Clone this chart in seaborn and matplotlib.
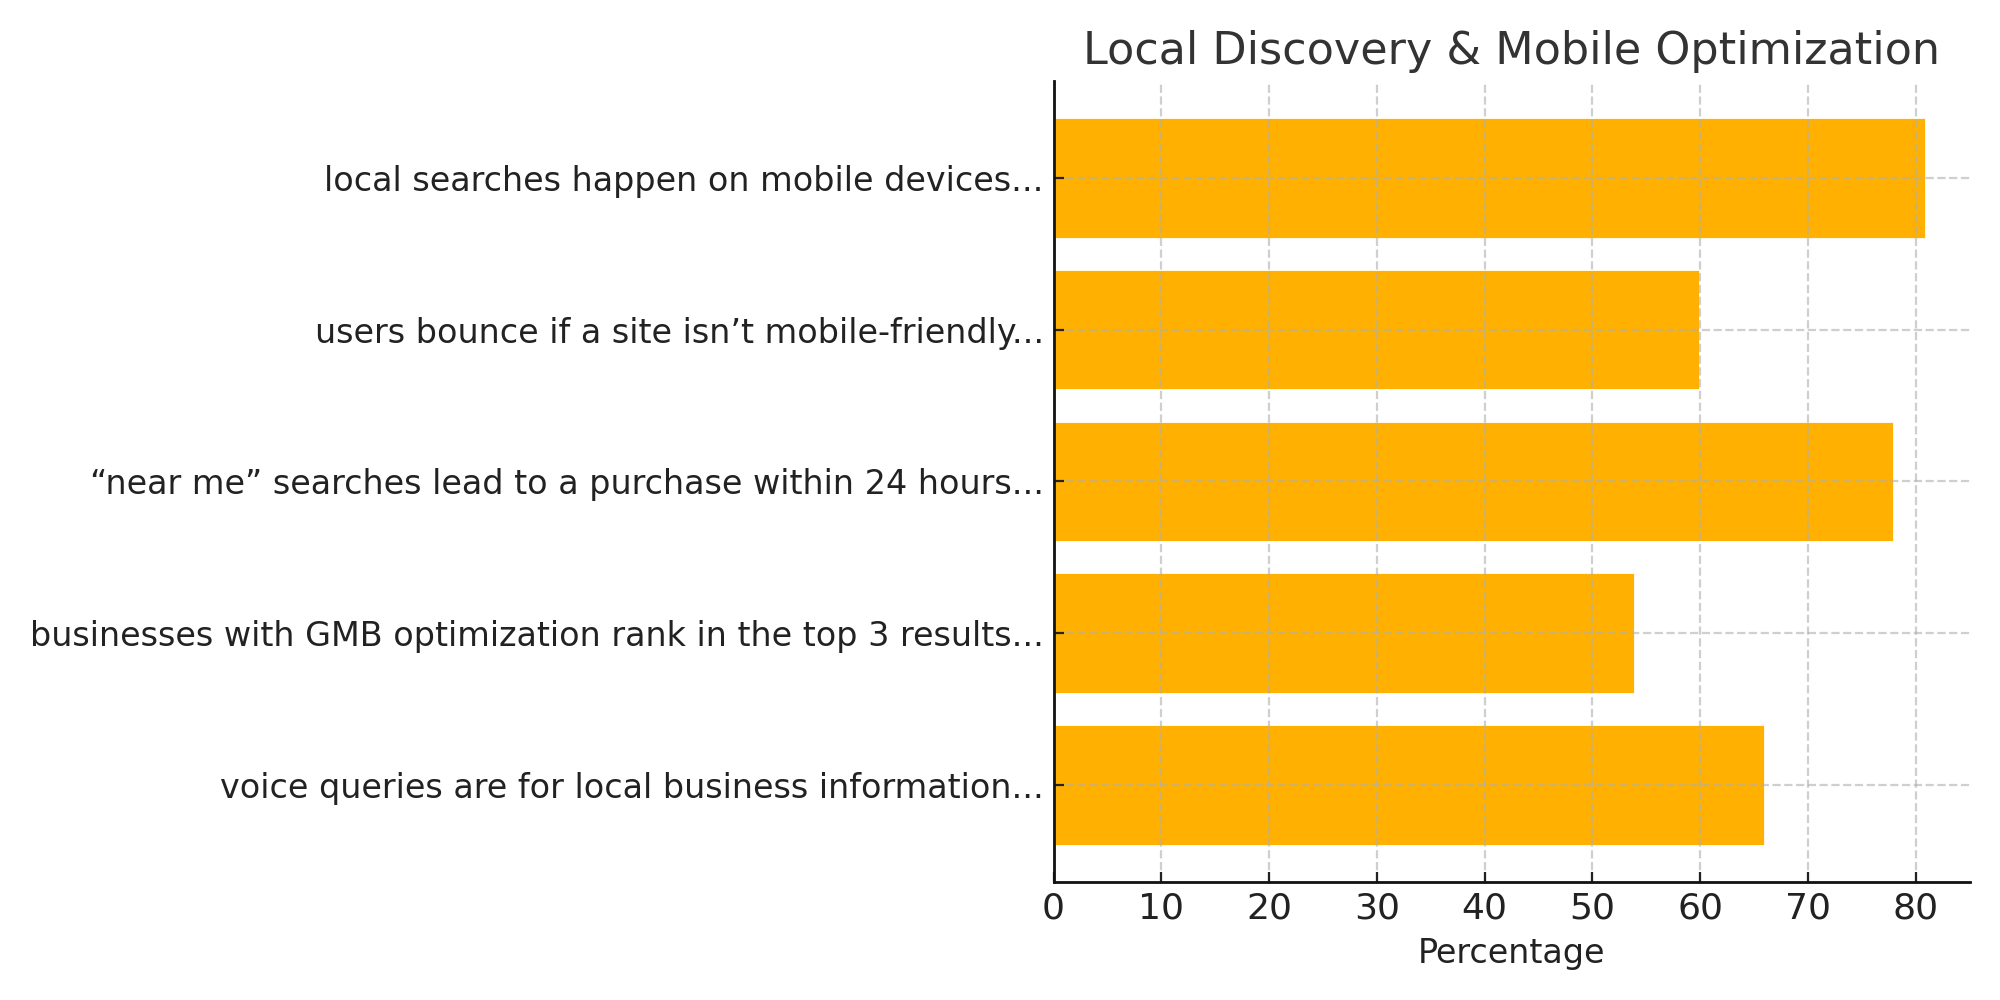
import pandas as pd
import seaborn as sns
import matplotlib.pyplot as plt
from matplotlib.ticker import MultipleLocator

categories = [
    "local searches happen on mobile devices...",
    "users bounce if a site isn\u2019t mobile-friendly...",
    "\u201cnear me\u201d searches lead to a purchase within 24 hours...",
    "businesses with GMB optimization rank in the top 3 results...",
    "voice queries are for local business information...",
]
percentages = [81, 60, 78, 54, 66]

df = pd.DataFrame({"stat": categories, "Percentage": percentages})

sns.set_style("ticks")
plt.rcParams['font.family'] = ['DejaVu Sans']

fig, ax = plt.subplots(figsize=(10, 5), dpi=200)
sns.barplot(data=df, x="Percentage", y="stat", orient="h",
            color="#FFB000", saturation=1, width=0.8, ax=ax)

# matplotlib-like default margins
ax.set_ylim(4.64, -0.64)
ax.set_xlim(0, 85.05)
ax.xaxis.set_major_locator(MultipleLocator(10))

ax.set_axisbelow(False)
ax.grid(True, linestyle="--", color="#b0b0b0", alpha=0.6, linewidth=0.8)

sns.despine(ax=ax)
for s in ["left", "bottom"]:
    ax.spines[s].set_color("#111111")
    ax.spines[s].set_linewidth(1.0)
    ax.spines[s].set_zorder(5)

ax.set_title("Local Discovery & Mobile Optimization", fontsize=16, color="#333333")
ax.set_xlabel("Percentage", fontsize=12, color="#222222")
ax.set_ylabel("")
ax.tick_params(axis="both", labelsize=12, colors="#222222", direction="in")
ax.tick_params(axis="x", labelsize=13)

plt.tight_layout()
plt.savefig("out.png")
